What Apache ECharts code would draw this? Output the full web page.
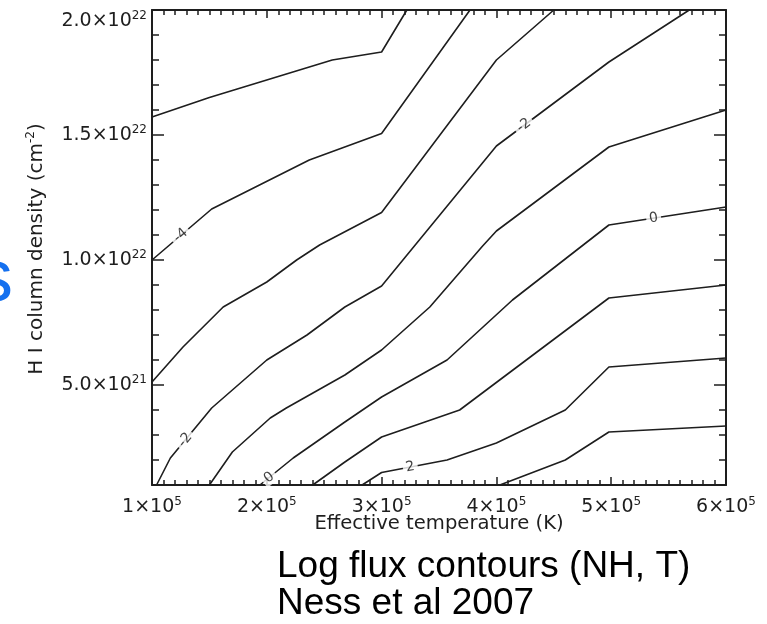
<!DOCTYPE html>
<html>
<head>
<meta charset="utf-8">
<script src="https://cdn.jsdelivr.net/npm/echarts@6/dist/echarts.min.js"></script>
<style>
  html, body { margin: 0; padding: 0; background: #fff; }
  #chart { width: 767px; height: 624px; }
</style>
</head>
<body>
<div id="chart"></div>
<script>
// Units used by the contour tables below
const T_UNIT = 1e5;    // effective temperature, in 10^5 K
const NH_UNIT = 1e21;  // H I column density, in 10^21 cm^-2

// Axis ticks (in the units above)
const tempTicks = [1, 2, 3, 4, 5, 6];
const densityTicks = [5, 10, 15, 20];

// Log flux contours: [T, NH] vertices
const fluxM5 = [[1.00, 15.72], [1.50, 16.50], [2.57, 18.00], [3.00, 18.32], [3.22, 20.00]];
const fluxM4 = [[1.00, 10.00], [1.52, 12.04], [2.37, 14.00], [3.00, 15.06], [3.77, 20.00]];
const fluxM3 = [[1.00, 5.12], [1.27, 6.52], [1.62, 8.12], [2.00, 9.12], [2.26, 10.00], [2.46, 10.60],
                [3.00, 11.90], [4.00, 18.00], [4.50, 20.00]];
const fluxM2 = [[1.04, 1.00], [1.16, 2.08], [1.52, 4.08], [2.00, 6.00], [2.35, 7.00], [2.68, 8.12],
                [3.00, 8.96], [4.00, 14.56], [4.98, 17.92], [5.68, 20.00]];
const fluxM1 = [[1.50, 1.00], [1.70, 2.32], [2.03, 3.68], [2.17, 4.08], [2.68, 5.40], [3.00, 6.40],
                [3.42, 8.12], [3.88, 10.56], [4.00, 11.16], [4.98, 14.52], [6.00, 16.00]];
const flux0  = [[1.94, 1.00], [2.23, 2.08], [2.68, 3.52], [3.00, 4.52], [3.57, 6.00], [4.14, 8.40],
                [4.98, 11.40], [6.00, 12.12]];
const fluxP1 = [[2.40, 1.00], [2.68, 1.92], [3.00, 2.92], [3.68, 4.00], [4.98, 8.48], [6.00, 9.00]];
const fluxP2 = [[2.83, 1.00], [3.00, 1.50], [3.57, 2.00], [4.00, 2.68], [4.60, 4.00], [4.98, 5.72], [6.00, 6.08]];
const fluxP3 = [[4.03, 1.00], [4.60, 2.00], [4.98, 3.12], [6.00, 3.36]];

const contourLevels = [-5, -4, -3, -2, -1, 0, 1, 2, 3];
const contourLines = [fluxM5, fluxM4, fluxM3, fluxM2, fluxM1, flux0, fluxP1, fluxP2, fluxP3];

// In-line contour labels: level and the temperature where each sits
const labelLevels = [-4, -2, -2, 0, 0, 2];
const labelTemps = [1.25, 1.29, 4.24, 2.02, 5.37, 3.25];

const ink = '#1e1e1e';
const axisFont = 'DejaVu Sans';

const sciRich = {
  b: { fontFamily: axisFont, fontSize: 19, color: ink, lineHeight: 22 },
  s: { fontFamily: axisFont, fontSize: 12, color: ink, lineHeight: 12, verticalAlign: 'top' }
};
function sci(mant, exp) { return '{b|' + mant + '×10}{s|' + exp + '}'; }
function tempLabel(v) { return sci(Math.round(v / T_UNIT), 5); }
function densityLabel(v) {
  const u = Math.round(v / NH_UNIT);
  return u >= 10 ? sci((u / 10).toFixed(1), 22) : sci(u.toFixed(1), 21);
}

const toAxis = pts => pts.map(p => [p[0] * T_UNIT, p[1] * NH_UNIT]);

const axisLineStyle = { color: ink, width: 2 };
const tickStyle = { color: ink, width: 1.5 };

const xBase = {
  type: 'value', min: tempTicks[0] * T_UNIT, max: tempTicks[tempTicks.length - 1] * T_UNIT, interval: T_UNIT,
  splitLine: { show: false },
  axisLine: { show: true, onZero: false, lineStyle: axisLineStyle },
  axisTick: { show: true, inside: true, length: 8, lineStyle: tickStyle },
  minorTick: { show: true, splitNumber: 10, length: 5, lineStyle: tickStyle },
  minorSplitLine: { show: false }
};
const majorDensity = densityTicks.map(v => v * NH_UNIT);
const yBase = {
  type: 'value', min: 1 * NH_UNIT, max: 20 * NH_UNIT,
  splitLine: { show: false }
};

const chart = echarts.init(document.getElementById('chart'), null, { renderer: 'canvas' });

const lineSeries = contourLines.map((pts, i) => ({
  type: 'line', name: 'log flux ' + contourLevels[i], data: toAxis(pts),
  xAxisIndex: 0, yAxisIndex: 0, symbol: 'none', showSymbol: false, smooth: false,
  lineStyle: { color: ink, width: 1.6 }, silent: true, clip: true, z: 2
}));

chart.setOption({
  animation: false,
  grid: { left: 152, top: 10, right: 41, bottom: 139, containLabel: false, outerBoundsMode: 'none' },
  xAxis: [
    Object.assign({}, xBase, { position: 'bottom',
      axisLabel: { margin: 11, formatter: tempLabel, rich: sciRich } }),
    Object.assign({}, xBase, { position: 'top', axisLabel: { show: false } })
  ],
  yAxis: [
    Object.assign({}, yBase, { position: 'left', interval: NH_UNIT,
      axisLine: { show: true, onZero: false, lineStyle: axisLineStyle },
      axisTick: { show: true, inside: true, length: 7, lineStyle: tickStyle },
      axisLabel: { show: false } }),
    Object.assign({}, yBase, { position: 'left',
      axisLine: { show: false },
      axisTick: { show: true, inside: true, length: 12, lineStyle: tickStyle, customValues: majorDensity },
      axisLabel: { show: true, margin: 5, customValues: majorDensity, formatter: densityLabel, rich: sciRich,
                   verticalAlignMaxLabel: 'top' } }),
    Object.assign({}, yBase, { position: 'right', interval: NH_UNIT,
      axisLine: { show: true, onZero: false, lineStyle: axisLineStyle },
      axisTick: { show: true, inside: true, length: 7, lineStyle: tickStyle },
      axisLabel: { show: false } }),
    Object.assign({}, yBase, { position: 'right',
      axisLine: { show: false },
      axisTick: { show: true, inside: true, length: 12, lineStyle: tickStyle, customValues: majorDensity },
      axisLabel: { show: false } })
  ],
  graphic: [
    { type: 'text', x: 37, y: 249, rotation: Math.PI / 2,
      style: { text: '{b|H I column density (cm}{s|-2}{b|)}', align: 'center', verticalAlign: 'middle',
               rich: { b: { fontFamily: axisFont, fontSize: 20, fill: ink, color: ink, lineHeight: 24 },
                       s: { fontFamily: axisFont, fontSize: 12, fill: ink, color: ink, lineHeight: 13, verticalAlign: 'top' } } } },
    { type: 'text', x: 439, y: 524,
      style: { text: 'Effective temperature (K)', fontFamily: axisFont, fontSize: 19.6, fill: ink,
               align: 'center', verticalAlign: 'middle' } },
    { type: 'text', x: 277, y: 567,
      style: { text: 'Log flux contours (NH, T)', fontFamily: 'Liberation Sans', fontSize: 37, fill: '#000',
               align: 'left', verticalAlign: 'middle' } },
    { type: 'text', x: 277, y: 604,
      style: { text: 'Ness et al 2007', fontFamily: 'Liberation Sans', fontSize: 37, fill: '#000',
               align: 'left', verticalAlign: 'middle' } },
    { type: 'text', x: -24, y: 281,
      style: { text: 's', fontFamily: 'Liberation Sans', fontSize: 74, fill: '#1570ef',
               align: 'left', verticalAlign: 'middle' } }
  ],
  series: lineSeries
});

// Place each level label on its contour, turned along the local segment
function onContour(pts, t) {
  for (let i = 0; i < pts.length - 1; i++) {
    const a = pts[i], b = pts[i + 1];
    if (t >= a[0] && t <= b[0]) {
      const f = (t - a[0]) / (b[0] - a[0]);
      return { point: [t, a[1] + f * (b[1] - a[1])], a: a, b: b };
    }
  }
  return null;
}
const labelData = labelLevels.map((lvl, i) => {
  const pts = contourLines[contourLevels.indexOf(lvl)];
  const hit = onContour(pts, labelTemps[i]);
  const pa = chart.convertToPixel({ seriesIndex: 0 }, [hit.a[0] * T_UNIT, hit.a[1] * NH_UNIT]);
  const pb = chart.convertToPixel({ seriesIndex: 0 }, [hit.b[0] * T_UNIT, hit.b[1] * NH_UNIT]);
  const angle = Math.atan2(-(pb[1] - pa[1]), pb[0] - pa[0]) * 180 / Math.PI;
  return {
    value: [hit.point[0] * T_UNIT, hit.point[1] * NH_UNIT],
    label: { rotate: angle, formatter: String(lvl) }
  };
});

chart.setOption({
  series: lineSeries.concat([{
    type: 'scatter', name: 'levels', data: labelData, xAxisIndex: 0, yAxisIndex: 0,
    symbolSize: 1, itemStyle: { color: 'rgba(0,0,0,0)' }, silent: true, z: 5,
    label: { show: true, position: 'inside', fontFamily: axisFont, fontSize: 14, color: '#111',
             backgroundColor: '#fff', padding: [0, 3] }
  }])
});
</script>
</body>
</html>
